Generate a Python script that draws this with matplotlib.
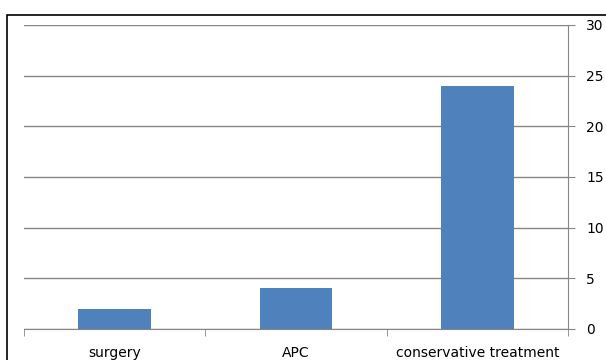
import matplotlib.pyplot as plt
from matplotlib.patches import Rectangle

categories = ["surgery", "APC", "conservative treatment"]
values = [2, 4, 24]
yticks = [0, 5, 10, 15, 20, 25, 30]

fig = plt.figure(figsize=(6.06, 3.6), dpi=100)
ax = fig.add_axes([24 / 606, 1 - 329 / 360, 544 / 606, 304 / 360])

x = list(range(len(categories)))
ax.bar(x, values, width=0.4, color="#4F81BD", zorder=3)

ax.set_xlim(-0.5, len(categories) - 0.5)
ax.set_ylim(0, 30)
ax.set_yticks(yticks)
ax.yaxis.tick_right()
ax.grid(axis="y", color="#868686", linewidth=1, zorder=0)

ax.set_xticks(x)
ax.set_xticklabels(categories, fontsize=10)
ax.tick_params(axis="x", length=0, pad=12)
# category boundary ticks
ax.set_xticks([-0.5, 0.5, 1.5, 2.5], minor=True)
ax.tick_params(axis="x", which="minor", length=5, color="#868686")
ax.tick_params(axis="y", labelsize=10, length=5, color="#868686", pad=8)

for s in ["top", "left"]:
    ax.spines[s].set_visible(False)
ax.spines["right"].set_color("#868686")
ax.spines["bottom"].set_color("#868686")

# outer chart border, cut off at right and bottom
fig.patches.append(Rectangle((7 / 606, -0.1), 1.0, 1 - 15 / 360 + 0.1,
                             transform=fig.transFigure, fill=False,
                             edgecolor="black", linewidth=1.2))

fig.savefig("out.png", dpi=100)
